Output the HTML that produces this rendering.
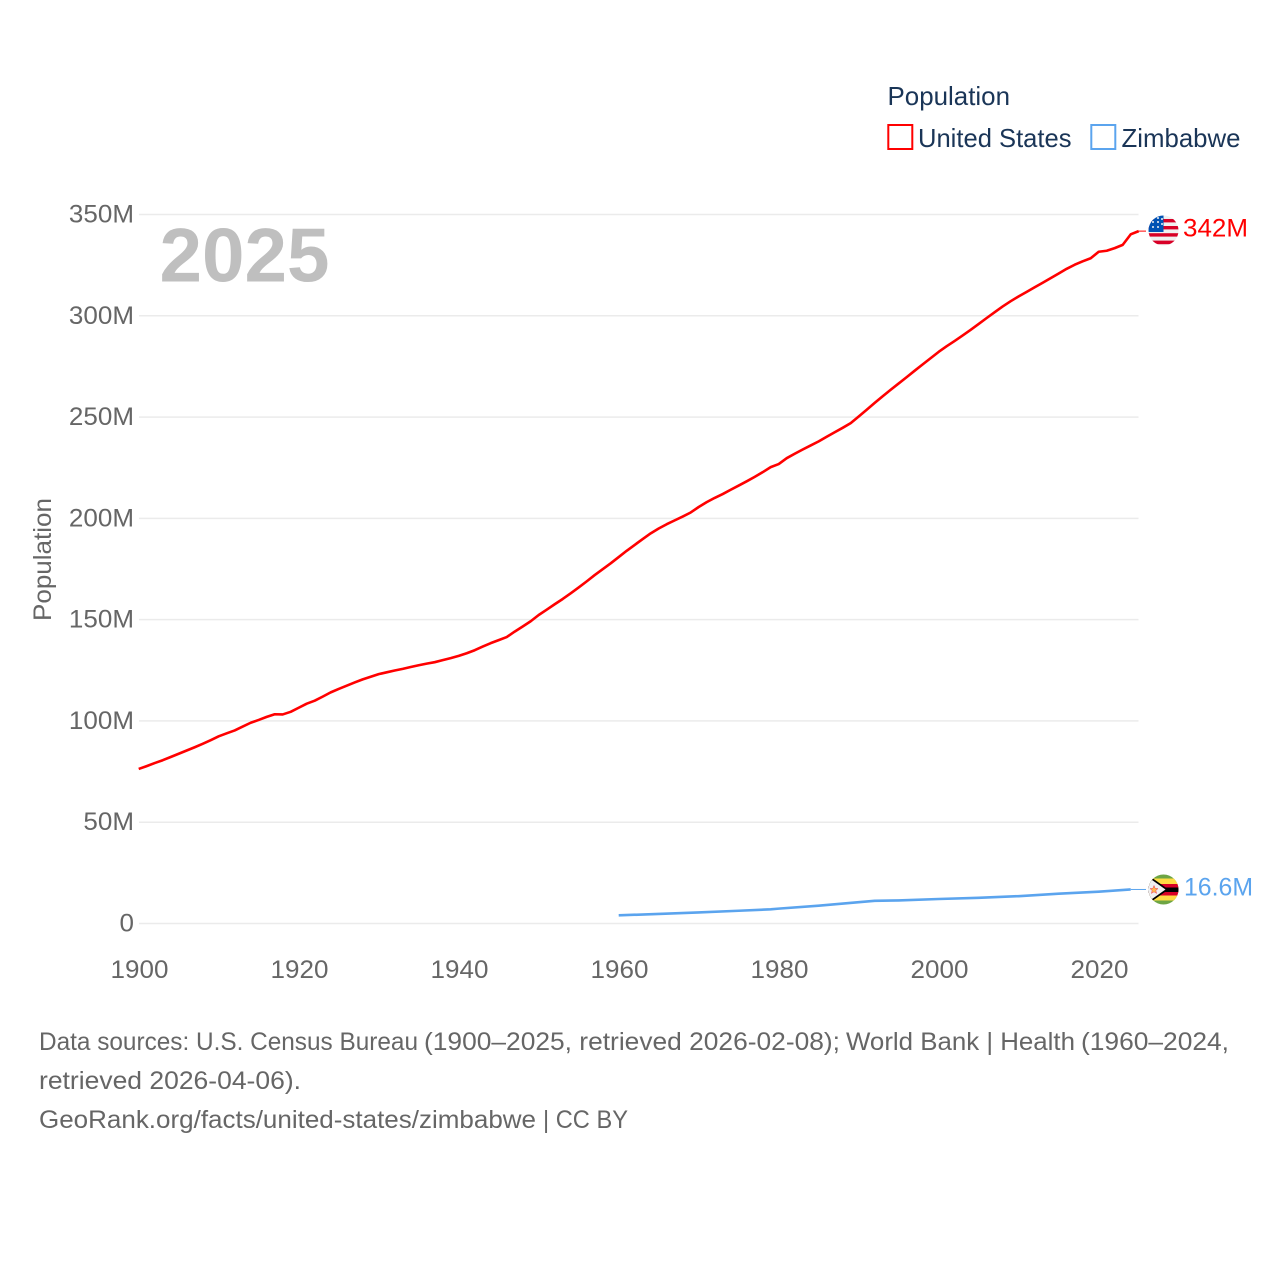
<!DOCTYPE html>
<html lang="en">
<head>
<meta charset="utf-8">
<title>Population: United States and Zimbabwe</title>
<style>
html,body{margin:0;padding:0;background:#fff;width:1280px;height:1280px;overflow:hidden}
svg{display:block}
text{font-family:"Liberation Sans",sans-serif}
.tick{font-size:25px;fill:#666}
.foot{font-size:25px;fill:#666}
.leg{font-size:26px;fill:#1a3557}
</style>
</head>
<body>
<svg id="chart" xmlns="http://www.w3.org/2000/svg" width="1280" height="1280" viewBox="0 0 1280 1280">
  <defs>
    <clipPath id="us-clip"><circle cx="1163.5" cy="230.5" r="15"/></clipPath>
    <clipPath id="zw-clip"><circle cx="1163.5" cy="889.5" r="15"/></clipPath>
  </defs>
  <rect width="1280" height="1280" fill="#fff"/>

  <g id="grid"></g>
  <g id="y-ticks"></g>
  <g id="x-ticks"></g>

  <text class="tick" x="0" y="0" transform="translate(51,621) rotate(-90)" textLength="123" lengthAdjust="spacingAndGlyphs">Population</text>
  <text x="159.5" y="281.5" font-size="76" font-weight="700" fill="#bfbfbf" textLength="170" lengthAdjust="spacingAndGlyphs">2025</text>

  <g id="series"></g>

  <g clip-path="url(#us-clip)">
    <rect x="1148" y="215" width="31" height="32" fill="#f0f0f0"/>
    <rect x="1148" y="219" width="31" height="3.4" fill="#d80027"/>
    <rect x="1148" y="226" width="31" height="3.4" fill="#d80027"/>
    <rect x="1148" y="233.2" width="31" height="3.4" fill="#d80027"/>
    <rect x="1148" y="240.6" width="31" height="3.6" fill="#d80027"/>
    <rect x="1148" y="215" width="15.5" height="17" fill="#0052b4"/>
    <circle cx="1153" cy="227" r="1" fill="#f0f0f0"/><circle cx="1158" cy="227" r="1" fill="#f0f0f0"/>
    <circle cx="1158" cy="222" r="1" fill="#f0f0f0"/><circle cx="1153" cy="222" r="1" fill="#f0f0f0"/>
    <circle cx="1158" cy="218" r="1" fill="#f0f0f0"/><circle cx="1162" cy="224" r="1" fill="#f0f0f0"/>
    <circle cx="1162" cy="219" r="1" fill="#f0f0f0"/>
  </g>

  <g clip-path="url(#zw-clip)">
    <rect x="1148" y="874" width="31" height="32" fill="#6da544"/>
    <rect x="1148" y="878.5" width="31" height="6" fill="#ffda44"/>
    <rect x="1148" y="895" width="31" height="5.5" fill="#ffda44"/>
    <rect x="1148" y="884" width="31" height="11.5" fill="#d80027"/>
    <rect x="1148" y="887.5" width="31" height="4.5" fill="#000"/>
    <polygon points="1148,875 1168.5,889.5 1148,904" fill="#000"/>
    <polygon points="1147,876.5 1165.5,889.5 1147,902.5" fill="#f0f0f0"/>
    <polygon points="1154,885.5 1155.2,888.4 1158,888.6 1155.8,890.5 1156.6,893.4 1154,891.8 1151.4,893.4 1152.2,890.5 1150,888.6 1152.8,888.4" fill="#ffb84d" stroke="#e8304f" stroke-width=".5"/>
  </g>

  <text x="1183" y="236.5" font-size="25" fill="#ff0000" textLength="65" lengthAdjust="spacingAndGlyphs">342M</text>
  <text x="1184" y="895.5" font-size="25" fill="#5ba4ee" textLength="69" lengthAdjust="spacingAndGlyphs">16.6M</text>

  <text class="leg" x="887.5" y="105" textLength="122.5" lengthAdjust="spacingAndGlyphs">Population</text>
  <g>
    <rect x="888.3" y="125" width="24" height="24" fill="none" stroke="#ff0000" stroke-width="2"/>
    <text class="leg" x="918" y="147" textLength="153.5" lengthAdjust="spacingAndGlyphs">United States</text>
  </g>
  <g>
    <rect x="1091.3" y="125" width="24" height="24" fill="none" stroke="#5ba4ee" stroke-width="2"/>
    <text class="leg" x="1121.5" y="147" textLength="119" lengthAdjust="spacingAndGlyphs">Zimbabwe</text>
  </g>

  <g>
    <text class="foot" x="39" y="1050" textLength="379" lengthAdjust="spacingAndGlyphs">Data sources: U.S. Census Bureau</text>
    <text class="foot" x="424" y="1050" textLength="416" lengthAdjust="spacingAndGlyphs">(1900–2025, retrieved 2026-02-08);</text>
    <text class="foot" x="846" y="1050" textLength="229" lengthAdjust="spacingAndGlyphs">World Bank | Health</text>
    <text class="foot" x="1081" y="1050" textLength="148" lengthAdjust="spacingAndGlyphs">(1960–2024,</text>
  </g>
  <text class="foot" x="39" y="1089" textLength="262" lengthAdjust="spacingAndGlyphs">retrieved 2026-04-06).</text>
  <g>
    <text class="foot" x="39" y="1128" textLength="497" lengthAdjust="spacingAndGlyphs">GeoRank.org/facts/united-states/zimbabwe</text>
    <text class="foot" x="543" y="1128" textLength="85" lengthAdjust="spacingAndGlyphs">| CC BY</text>
  </g>
</svg>

<script>
var usFirstYear = 1900;
var usValues = [76.3,77.7,79.2,80.6,82.2,83.8,85.4,87.0,88.7,90.5,92.4,93.9,95.3,97.2,99.1,100.5,102.0,103.3,103.2,104.5,106.5,108.5,110.0,112.0,114.1,115.8,117.4,119.0,120.5,121.8,123.1,124.0,124.9,125.7,126.6,127.5,128.3,129.0,130.0,131.0,132.1,133.4,134.9,136.7,138.4,139.9,141.4,144.1,146.6,149.2,152.3,154.9,157.6,160.2,163.0,165.9,168.9,172.0,174.9,177.8,180.9,184.0,186.9,189.8,192.6,195.0,197.1,199.0,200.9,202.9,205.6,208.0,210.1,212.0,214.1,216.2,218.3,220.5,222.8,225.3,226.8,229.7,231.9,234.0,236.0,238.0,240.3,242.5,244.7,247.0,250.3,253.6,257.0,260.3,263.5,266.6,269.7,272.9,276.0,279.1,282.2,285.0,287.6,290.3,293.1,296.0,298.9,301.8,304.6,307.2,309.6,311.8,314.1,316.3,318.6,320.9,323.2,325.2,326.9,328.4,331.6,332.1,333.4,335.0,340.2,341.8];
var zwYears = [1960,1965,1970,1975,1979,1980,1985,1990,1992,1995,2000,2005,2010,2015,2020,2024];
var zwValues = [4.05,4.7,5.45,6.3,7.0,7.35,8.8,10.5,11.2,11.4,12.1,12.7,13.5,14.7,15.7,16.8];
var yTickValues = [0,50,100,150,200,250,300,350];
var yTickLabels = ["0","50M","100M","150M","200M","250M","300M","350M"];
var xTickYears = [1900,1920,1940,1960,1980,2000,2020];
var xLabelYears = ["1900","1920","1940","1960","1980","2000","2020"];

var NS = "http://www.w3.org/2000/svg";
function xScale(year){ return 138.7 + (year - 1900) * 8; }
function yScale(v){ return 923.5 - v * (709 / 350); }
function make(tag, parent){
  var n = document.createElementNS(NS, tag);
  parent.appendChild(n);
  return n;
}

var gridGroup = document.getElementById("grid");
var yGroup = document.getElementById("y-ticks");
var xGroup = document.getElementById("x-ticks");
var seriesGroup = document.getElementById("series");

yTickValues.forEach(function(v, i){
  var line = make("line", gridGroup);
  
  
  line.setAttribute("x1", 139);
  line.setAttribute("x2", 1138.5);
  line.setAttribute("y1", yScale(v));
  line.setAttribute("y2", yScale(v));
  line.setAttribute("stroke", "#ebebeb");
  line.setAttribute("stroke-width", "1.5");

  var t = make("text", yGroup);
  
  
  t.setAttribute("class", "tick");
  t.setAttribute("x", 134);
  t.setAttribute("y", yScale(v) + 8);
  t.setAttribute("text-anchor", "end");
  t.textContent = yTickLabels[i];
  t.setAttribute("textLength", t.getComputedTextLength() * 1.04);
  t.setAttribute("lengthAdjust", "spacingAndGlyphs");
});

xTickYears.forEach(function(yr, i){
  var t = make("text", xGroup);
  
  
  t.setAttribute("class", "tick");
  t.setAttribute("x", xScale(yr) + 0.8);
  t.setAttribute("y", 978);
  t.setAttribute("text-anchor", "middle");
  t.textContent = xLabelYears[i];
  t.setAttribute("textLength", t.getComputedTextLength() * 1.04);
  t.setAttribute("lengthAdjust", "spacingAndGlyphs");
});

function drawLine(xs, ys, color, name, width){
  var path = make("polyline", seriesGroup);
  
  
  var pts = xs.map(function(yr, i){ return xScale(yr).toFixed(2) + "," + yScale(ys[i]).toFixed(2); });
  path.setAttribute("points", pts.join(" "));
  path.setAttribute("fill", "none");
  path.setAttribute("stroke", color);
  path.setAttribute("stroke-width", width);
  path.setAttribute("stroke-linejoin", "round");
}

var usYears = usValues.map(function(_, i){ return usFirstYear + i; });
drawLine(usYears, usValues, "#ff0000", "united-states-line", 2.6);
drawLine(zwYears, zwValues, "#5ba4ee", "zimbabwe-line", 2.6);

function drawConnector(year, value, color, name){
  var c = make("line", seriesGroup);
  
  
  c.setAttribute("x1", xScale(year));
  c.setAttribute("x2", 1146);
  c.setAttribute("y1", yScale(value));
  c.setAttribute("y2", yScale(value));
  c.setAttribute("stroke", color);
  c.setAttribute("stroke-width", "1");
}
drawConnector(usYears[usYears.length - 1], usValues[usValues.length - 1], "#ff0000", "united-states-connector");
drawConnector(zwYears[zwYears.length - 1], zwValues[zwValues.length - 1], "#5ba4ee", "zimbabwe-connector");
</script>
</body>
</html>
